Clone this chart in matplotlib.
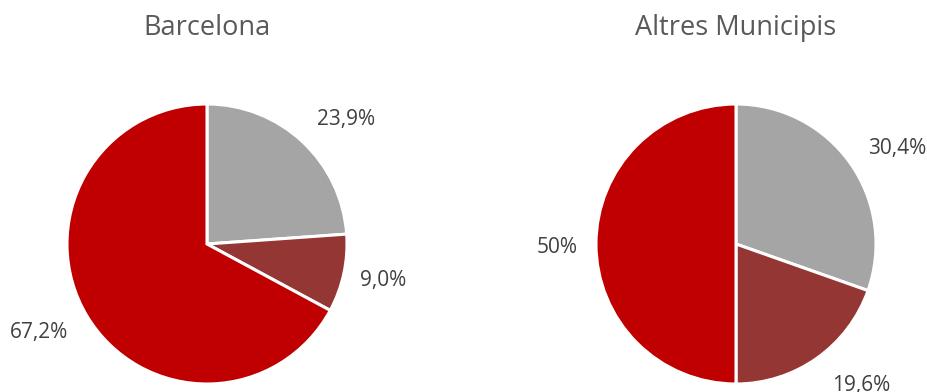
import matplotlib.pyplot as plt

plt.rcParams['font.family'] = ['Open Sans', 'DejaVu Sans']

categories = ['Categoria A', 'Categoria B', 'Categoria C']
barcelona = [23.9, 9.0, 67.2]
altres = [30.4, 19.6, 50]
titles = ['Barcelona', 'Altres Municipis']
colors = ['#A5A5A5', '#943634', '#C00000']


def pct_label(v):
    return f"{v}".replace('.', ',') + '%'


fig = plt.figure(figsize=(9.27, 3.92), dpi=100)

# axes boxes in figure fractions, one per pie (radius = 140 px)
boxes = [
    [67 / 927, 8 / 392, 280 / 927, 280 / 392],
    [596 / 927, 8 / 392, 280 / 927, 280 / 392],
]
title_x = [207 / 927, 736 / 927]
# nudges (px right, px down) for the data labels, best-fit style
nudges = [
    [(13, 11), (-5, -2), (-9, -6)],
    [(10, 11), (18, -9), (6, 4)],
]

for box, vals, title, tx, nud in zip(boxes, [barcelona, altres], titles, title_x, nudges):
    ax = fig.add_axes(box)
    wedges, texts = ax.pie(
        vals,
        labels=[pct_label(v) for v in vals],
        colors=colors,
        startangle=90,
        counterclock=False,
        labeldistance=1.32,
        wedgeprops=dict(edgecolor='white', linewidth=2.2),
        textprops=dict(color='#404040', fontsize=15),
    )
    for t, (dx, dy) in zip(texts, nud):
        x, y = t.get_position()
        t.set_position((x + dx / 140, y - dy / 140))
        t.set_horizontalalignment('center')
        t.set_verticalalignment('center')
    ax.set_xlim(-1, 1)
    ax.set_ylim(-1, 1)
    ax.set_aspect('equal')
    ax.axis('off')
    fig.text(tx, 1 - 35 / 392, title, ha='center', va='baseline',
             fontsize=19.5, color='#595959')

fig.savefig('out.png', dpi=100)
